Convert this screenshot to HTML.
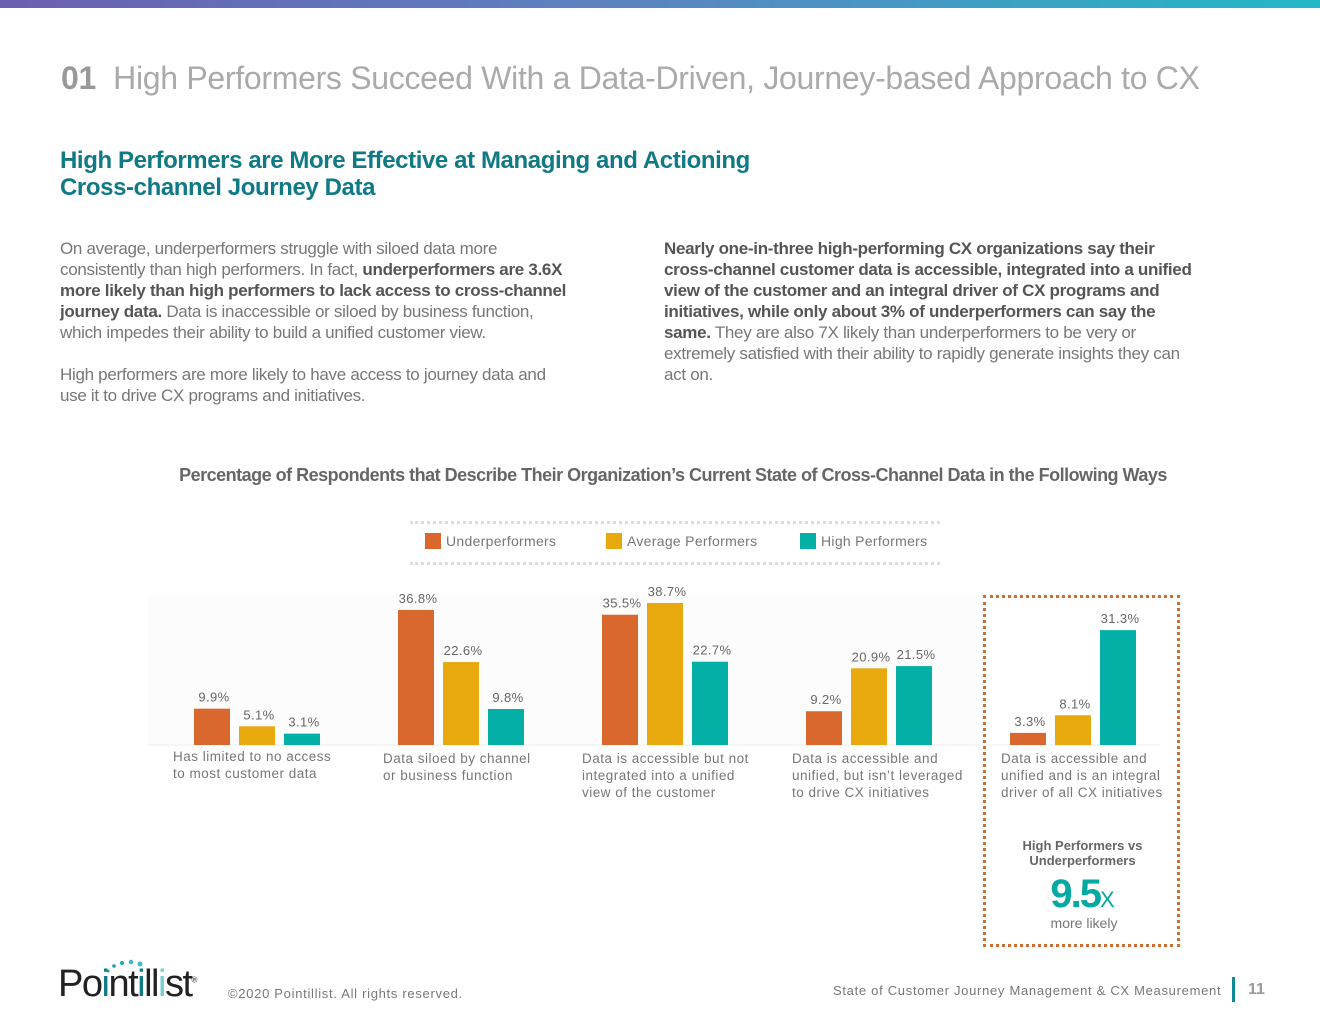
<!DOCTYPE html>
<html><head><meta charset="utf-8"><style>
body{margin:0;width:1320px;height:1020px;position:relative;background:#fff;font-family:"Liberation Sans",sans-serif;overflow:hidden}
.a{position:absolute}
.p{color:#777;font-size:17px;line-height:21px;letter-spacing:-0.3px}
.p b{color:#555}
</style></head><body>
<div class="a" style="left:0;top:0;width:1320px;height:8px;background:linear-gradient(90deg,#6b5fb0,#5a86c0 50%,#22b8c6)"></div>
<div class="a" style="left:61px;top:60px;font-size:32px;color:#aaa;white-space:nowrap;letter-spacing:-0.3px"><b style="color:#999">01</b>&nbsp; High Performers Succeed With a Data-Driven, Journey-based Approach to CX</div>
<div class="a" style="left:60px;top:147px;font-size:24px;line-height:27px;color:#0f7a86;font-weight:bold;letter-spacing:-0.4px">High Performers are More Effective at Managing and Actioning<br>Cross-channel Journey Data</div>
<div class="a p" style="left:60px;top:238px;white-space:nowrap">On average, underperformers struggle with siloed data more<br>consistently than high performers. In fact, <b>underperformers are 3.6X<br>more likely than high performers to lack access to cross-channel<br>journey data.</b> Data is inaccessible or siloed by business function,<br>which impedes their ability to build a unified customer view.<br><br>High performers are more likely to have access to journey data and<br>use it to drive CX programs and initiatives.</div>
<div class="a p" style="left:664px;top:238px;width:538px"><b>Nearly one-in-three high-performing CX organizations say their cross-channel customer data is accessible, integrated into a unified view of the customer and an integral driver of CX programs and initiatives, while only about 3% of underperformers can say the same.</b> They are also 7X likely than underperformers to be very or extremely satisfied with their ability to rapidly generate insights they can act on.</div>
<div class="a" style="left:0;width:1346px;top:465px;text-align:center;font-size:18px;font-weight:bold;color:#666;letter-spacing:-0.5px">Percentage of Respondents that Describe Their Organization’s Current State of Cross-Channel Data in the Following Ways</div>
<div class="a" style="left:410px;top:521px;width:530px;height:38px;border-top:3px dotted #ddd;border-bottom:3px dotted #ddd;font-size:14px;color:#777;letter-spacing:0.3px">
 <div class="a" style="left:15px;top:9px"><span style="display:inline-block;width:16px;height:16px;background:#d9682f;vertical-align:-3px;margin-right:5px"></span>Underperformers</div>
 <div class="a" style="left:196px;top:9px"><span style="display:inline-block;width:16px;height:16px;background:#e8a90e;vertical-align:-3px;margin-right:5px"></span>Average Performers</div>
 <div class="a" style="left:390px;top:9px"><span style="display:inline-block;width:16px;height:16px;background:#04b0a6;vertical-align:-3px;margin-right:5px"></span>High Performers</div>
</div>
<div class="a" style="left:983px;top:595px;width:191px;height:346px;border:3px dotted #d06d30"></div>
<svg class="a" id="chart" style="left:0;top:0" width="1320" height="1020"></svg>
<div class="a" style="left:984px;width:197px;top:838px;text-align:center;font-size:13px;line-height:15px;font-weight:bold;color:#666">High Performers vs<br>Underperformers</div>
<div class="a" style="left:984px;width:197px;top:872px;text-align:center;color:#04aaa2;font-weight:bold;font-size:40px;letter-spacing:-2px">9.5<span style="font-weight:normal;font-size:22px;letter-spacing:0">X</span></div>
<div class="a" style="left:984px;width:200px;top:915px;text-align:center;font-size:14px;color:#777">more likely</div>
<div class="a" style="left:58px;top:963px;font-size:38px;color:#222;letter-spacing:-1.5px;font-weight:normal">Po<span style="color:#0f7a86">i</span>nt<span style="color:#0f7a86">i</span>ll<span style="color:#7cc">i</span>st<sup style="font-size:8px">®</sup></div>
<svg class="a" style="left:100px;top:955px" width="90" height="20"><circle cx="8" cy="16" r="1.5" fill="#1a6"/><circle cx="14" cy="11" r="1.8" fill="#2a9a9a"/><circle cx="22" cy="8" r="2" fill="#2aa"/><circle cx="31" cy="7" r="2.2" fill="#3bb"/><circle cx="40" cy="9" r="2.5" fill="#4bc"/></svg>
<div class="a" style="left:228px;top:986px;font-size:13px;color:#777;letter-spacing:0.7px">©2020 Pointillist. All rights reserved.</div>
<div class="a" style="left:833px;top:983px;font-size:13px;color:#777;letter-spacing:0.7px">State of Customer Journey Management &amp; CX Measurement</div>
<div class="a" style="left:1232px;top:977px;width:3px;height:25px;background:#0f8a96"></div>
<div class="a" style="left:1248px;top:981px;font-size:16px;font-weight:bold;color:#999">11</div>
<script>
const categories=[["Has limited to no access","to most customer data"],["Data siloed by channel","or business function"],["Data is accessible but not","integrated into a unified","view of the customer"],["Data is accessible and","unified, but isn’t leveraged","to drive CX initiatives"],["Data is accessible and","unified and is an integral","driver of all CX initiatives"]];
const underperformers=[9.9,36.8,35.5,9.2,3.3];
const averagePerformers=[5.1,22.6,38.7,20.9,8.1];
const highPerformers=[3.1,9.8,22.7,21.5,31.3];
const seriesNames=["underperformers","average-performers","high-performers"];
const colors=["#d9682f","#e8a90e","#04b0a6"];
const labelShift=[-21,-15,-20,-14,-9];
const svg=document.getElementById('chart');
const NS='http://www.w3.org/2000/svg';
const baseY=745,pxPer=3.67;
const y=v=>baseY-v*pxPer;
const groupX=i=>194+i*204;
const barX=(i,s)=>groupX(i)+s*45;
function mk(t,a){const e=document.createElementNS(NS,t);for(const k in a)e.setAttribute(k,a[k]);svg.appendChild(e);return e;}
const bg=mk('rect',{x:148,y:595,width:830,height:150,fill:'#fcfcfc'});


const ax=mk('line',{x1:148,x2:1160,y1:baseY,y2:baseY,stroke:'#eee','stroke-width':1});


[underperformers,averagePerformers,highPerformers].forEach((arr,s)=>{
 arr.forEach((v,i)=>{
  const r=mk('rect',{x:barX(i,s),y:y(v),width:36,height:baseY-y(v),fill:colors[s]});
  
  
  const t=mk('text',{x:barX(i,s)+20,y:y(v)-7,'text-anchor':'middle','font-size':13,fill:'#666','font-family':'Liberation Sans','letter-spacing':0.4});
  t.textContent=v.toFixed(1)+'%';
  
  
 });
});
categories.forEach((lines,i)=>{
 lines.forEach((ln,j)=>{
  const t=mk('text',{x:groupX(i)+labelShift[i],y:761+j*17+(i>0?2:0),'font-size':13.5,fill:'#777','font-family':'Liberation Sans','letter-spacing':0.5});
  t.textContent=ln;
  
  
 });
});
</script>
</body></html>
